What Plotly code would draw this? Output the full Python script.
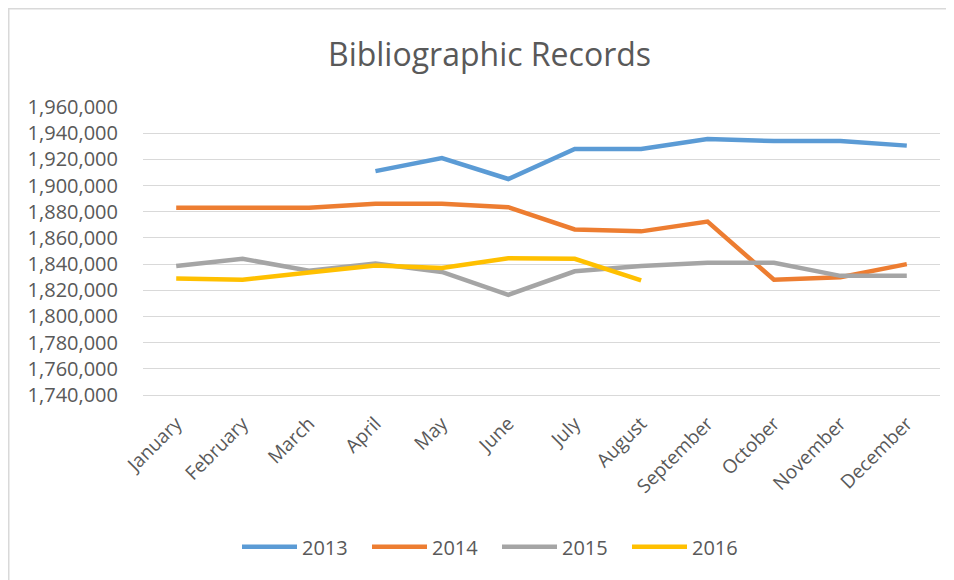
import plotly.graph_objects as go

months = ["January", "February", "March", "April", "May", "June", "July",
          "August", "September", "October", "November", "December"]
y2013 = [None, None, None, 1911000, 1921000, 1905000, 1928000, 1928000,
         1935500, 1934000, 1934000, 1930500]
y2014 = [1883000, 1883000, 1883000, 1886000, 1886000, 1883500, 1866500,
         1865000, 1872500, 1828000, 1830000, 1840000]
y2015 = [1838500, 1844000, 1835000, 1840500, 1834000, 1816500, 1834500,
         1838500, 1841000, 1841000, 1831000, 1831000]
y2016 = [1829000, 1828000, 1833500, 1839000, 1837000, 1844500, 1844000,
         1827500, None, None, None, None]
series = [("2013", y2013, "#5B9BD5"), ("2014", y2014, "#ED7D31"),
          ("2015", y2015, "#A5A5A5"), ("2016", y2016, "#FFC000")]
y_ticks = list(range(1740000, 1960001, 20000))

FONT = "Open Sans"
TXT = "#595959"

fig = go.Figure()
for name, vals, col in series:
    fig.add_trace(go.Scatter(x=months, y=vals, name=name, mode="lines",
                             line=dict(color=col, width=4.5),
                             connectgaps=False))

# page is drawn with an 8px body margin, so the figure is slightly smaller
W, H = 946, 572
L, R, T, B = 135, 14, 99, 185
pw, ph = W - L - R, H - T - B


def px(x):
    return (x - L) / pw


def py(y):
    return (H - B - y) / ph


fig.update_layout(
    width=W, height=H,
    margin=dict(l=L, r=R, t=T, b=B),
    paper_bgcolor="white", plot_bgcolor="white",
    font=dict(family=FONT, color=TXT, size=19),
    title=dict(text="Bibliographic Records", x=481.5 / W, xanchor="center",
               y=1 - 47 / H, yanchor="middle",
               font=dict(family=FONT, size=32, color=TXT)),
    xaxis=dict(type="category", range=[-0.5, 11.5], tickangle=-45,
               showgrid=False, showline=True, linecolor="#D9D9D9",
               ticks="", ticklabelstandoff=9,
               tickfont=dict(size=19, color=TXT)),
    yaxis=dict(range=[1740000, 1960000], tickvals=y_ticks,
               tickformat=",d", showgrid=True, gridcolor="#D9D9D9",
               gridwidth=1, zeroline=False, showline=False,
               ticks="", ticklabelstandoff=24,
               tickfont=dict(size=20, color=TXT)),
    legend=dict(orientation="h", x=px(229), xanchor="left",
                y=py(538.7), yanchor="middle",
                font=dict(size=20, color=TXT), itemwidth=55,
                entrywidth=60, traceorder="normal"),
    showlegend=True,
    shapes=[
        dict(type="line", xref="paper", yref="paper", x0=px(0), x1=px(W),
             y0=py(0.5), y1=py(0.5), line=dict(color="#D9D9D9", width=2)),
        dict(type="line", xref="paper", yref="paper", x0=px(0.5), x1=px(0.5),
             y0=py(0), y1=py(H), line=dict(color="#D9D9D9", width=2)),
    ],
)

fig.write_html("out.html")
